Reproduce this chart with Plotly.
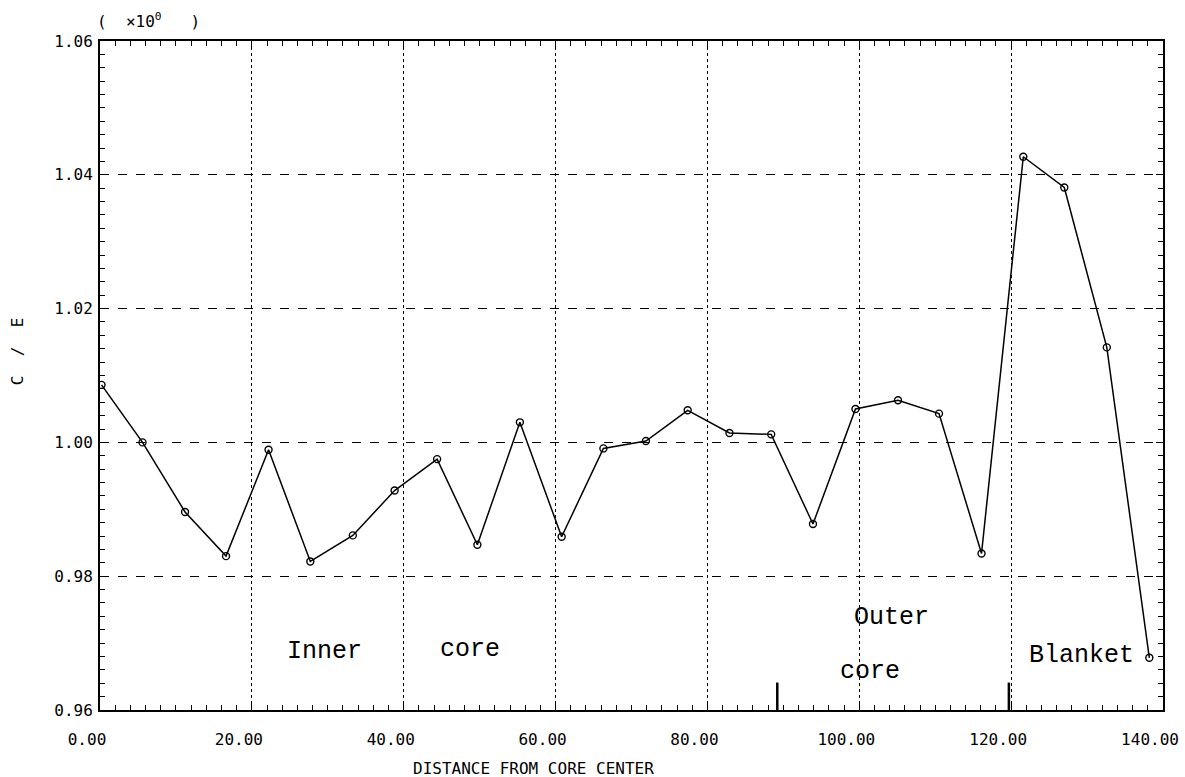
import plotly.graph_objects as go

# Calculated-to-experimental ratio along the radial traverse
distance = [0.2, 5.6, 11.2, 16.6, 22.2, 27.7, 33.3, 38.8, 44.4, 49.7, 55.3, 60.8, 66.3,
            71.9, 77.4, 82.9, 88.4, 93.9, 99.5, 105.1, 110.5, 116.1, 121.6, 127.0, 132.6, 138.2]
c_over_e = [1.0086, 1.0000, 0.9896, 0.9830, 0.9989, 0.9822, 0.9861, 0.9928, 0.9975, 0.9847,
            1.0030, 0.9859, 0.9991, 1.0002, 1.0048, 1.0014, 1.0012, 0.9878, 1.0050, 1.0063,
            1.0043, 0.9834, 1.0427, 1.0381, 1.0142, 0.9678]

x_ticks = [0, 20, 40, 60, 80, 100, 120, 140]
x_tick_labels = ["0.00", "20.00", "40.00", "60.00", "80.00", "100.00", "120.00", "140.00"]
y_ticks = [0.96, 0.98, 1.00, 1.02, 1.04, 1.06]
y_tick_labels = ["0.96", "0.98", "1.00", "1.02", "1.04", "1.06"]

# Region boundaries marked on the bottom axis
region_boundaries = [89.2, 119.7]

# Region labels: (text, x, y)
region_labels = [
    ("Inner", 29.6, 0.9687),
    ("core", 48.7, 0.9690),
    ("Outer", 104.2, 0.9739),
    ("core", 101.4, 0.9658),
    ("Blanket", 129.3, 0.9682),
]

tick_font = dict(family="DejaVu Sans Mono", size=16, color="black")
label_font = dict(family="Liberation Mono", size=25, color="black")

fig = go.Figure()
fig.add_trace(go.Scatter(
    x=distance, y=c_over_e, mode="lines+markers",
    line=dict(color="black", width=1.5),
    marker=dict(symbol="circle-open", size=7, color="black", line=dict(width=1.4)),
    showlegend=False,
))

for xb in region_boundaries:
    fig.add_shape(type="line", xref="x", yref="y", x0=xb, x1=xb, y0=0.96, y1=0.9641,
                  line=dict(color="black", width=2.5))

for text, lx, ly in region_labels:
    fig.add_annotation(x=lx, y=ly, xref="x", yref="y", text=text, showarrow=False,
                       font=label_font)

fig.add_annotation(x=-0.005, y=1.030, xref="paper", yref="paper", xanchor="left",
                   yanchor="middle",
                   text="(  ×10<sup>0</sup>   )", showarrow=False,
                   font=dict(family="DejaVu Sans Mono", size=16, color="black"))
fig.add_annotation(x=0.2926, y=-0.0867, xref="paper", yref="paper", yanchor="middle",
                   text="DISTANCE FROM CORE CENTER", showarrow=False,
                   font=dict(family="DejaVu Sans Mono", size=16, color="black"))
fig.add_annotation(x=-0.078, y=0.535, xref="paper", yref="paper", xanchor="center",
                   yanchor="middle",
                   text="C  /  E", textangle=-90, showarrow=False,
                   font=dict(family="DejaVu Sans Mono", size=16, color="black"))

fig.update_xaxes(
    range=[0, 140], tickvals=x_ticks, ticktext=x_tick_labels, tickfont=tick_font,
    ticks="inside", ticklen=7, tickwidth=1, tickcolor="black",
    minor=dict(dtick=2, ticks="inside", ticklen=5, tickcolor="black", showgrid=False),
    showline=True, linecolor="black", linewidth=2, mirror="allticks",
    showgrid=True, gridcolor="black", gridwidth=1, griddash="dot",
    zeroline=False, ticklabelshift=-13, ticklabelstandoff=14, automargin=False,
)
fig.update_yaxes(
    range=[0.96, 1.06], tickvals=y_ticks, ticktext=y_tick_labels, tickfont=tick_font,
    ticks="inside", ticklen=7, tickwidth=1, tickcolor="black",
    minor=dict(dtick=0.002, ticks="inside", ticklen=5, tickcolor="black", showgrid=False),
    showline=True, linecolor="black", linewidth=2, mirror="allticks",
    showgrid=True, gridcolor="black", gridwidth=1, griddash="dash",
    zeroline=False, ticklabelstandoff=2, automargin=False,
)

fig.update_layout(
    width=1185, height=777,
    margin=dict(l=100, r=22, t=41, b=67),
    plot_bgcolor="white", paper_bgcolor="white",
)

fig.write_html("out.html")
